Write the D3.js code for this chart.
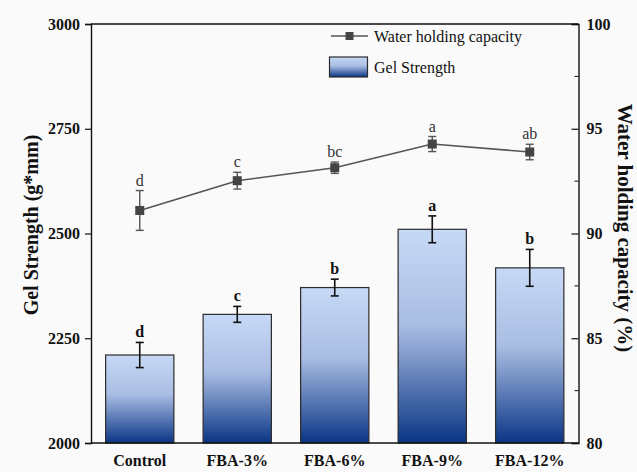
<!DOCTYPE html>
<html>
<head>
<meta charset="utf-8">
<script src="https://cdn.jsdelivr.net/npm/d3@7"></script>
<style>
  html, body { margin: 0; padding: 0; background: #fafafa; }
  svg { display: block; font-family: "Liberation Serif", "Times New Roman", serif; }
  svg text { font-family: "Liberation Serif", "Times New Roman", serif; }
</style>
</head>
<body>
<svg id="chart" width="637" height="472"></svg>
<script>
// Treatments
const categories = ["Control", "FBA-3%", "FBA-6%", "FBA-9%", "FBA-12%"];
// Gel strength (g*mm), mean and SD, with significance letters
const gelStrength = [2210, 2307, 2371, 2510, 2418];
const gelError = [30, 19, 20, 32, 44];
const gelLetters = ["d", "c", "b", "a", "b"];
// Water holding capacity (%), mean and SD, with significance letters
const whc = [91.1, 92.52, 93.14, 94.27, 93.89];
const whcError = [0.95, 0.4, 0.27, 0.36, 0.37];
const whcLetters = ["d", "c", "bc", "a", "ab"];
// Axis ticks
const leftTicks = [2000, 2250, 2500, 2750, 3000];
const rightTicks = [80, 85, 90, 95, 100];
const rightMinorTicks = [82.5, 87.5, 92.5, 97.5];

const svg = d3.select("#chart");
const m = { left: 91, right: 637 - 578.5, top: 24, bottom: 472 - 443 };
const W = 637, H = 472;

const x = d3.scaleBand().domain(categories).range([m.left, W - m.right]).paddingInner(0.3).paddingOuter(0.15);
const yL = d3.scaleLinear().domain([2000, 3000]).range([H - m.bottom, m.top]);
const yR = d3.scaleLinear().domain([80, 100]).range([H - m.bottom, m.top]);

// Bar gradient: light blue at top to navy at the base
const defs = svg.append("defs");
const grad = defs.append("linearGradient").attr("id", "barGrad")
  .attr("x1", 0).attr("y1", 0).attr("x2", 0).attr("y2", 1);
grad.append("stop").attr("offset", "0%").attr("stop-color", "#c6d9f6");
grad.append("stop").attr("offset", "45%").attr("stop-color", "#a9bde3");
grad.append("stop").attr("offset", "100%").attr("stop-color", "#0a3585");

const data = categories.map((c, i) => ({
  c, g: gelStrength[i], ge: gelError[i], gl: gelLetters[i],
  w: whc[i], we: whcError[i], wl: whcLetters[i]
}));

// Bars
svg.append("g").selectAll("rect").data(data).join("rect")
  .attr("x", d => x(d.c))
  .attr("y", d => yL(d.g))
  .attr("width", x.bandwidth())
  .attr("height", d => yL(2000) - yL(d.g))
  .attr("fill", "url(#barGrad)")
  .attr("stroke", "#2b2b2b")
  .attr("stroke-width", 1.2);

// Bar error bars
const cx = d => x(d.c) + x.bandwidth() / 2;
const be = svg.append("g").attr("stroke", "#111").attr("stroke-width", 1.6);
data.forEach(d => {
  be.append("line").attr("x1", cx(d)).attr("x2", cx(d)).attr("y1", yL(d.g + d.ge)).attr("y2", yL(d.g - d.ge));
  be.append("line").attr("x1", cx(d) - 4).attr("x2", cx(d) + 4).attr("y1", yL(d.g + d.ge)).attr("y2", yL(d.g + d.ge));
  be.append("line").attr("x1", cx(d) - 4).attr("x2", cx(d) + 4).attr("y1", yL(d.g - d.ge)).attr("y2", yL(d.g - d.ge));
});
svg.append("g").selectAll("text").data(data).join("text")
  .attr("x", cx).attr("y", d => yL(d.g + d.ge) - 5)
  .attr("text-anchor", "middle").attr("font-size", 16).attr("font-weight", "bold").attr("fill", "#111")
  .text(d => d.gl);

// Water holding capacity line
const lineColor = "#555";
svg.append("path").datum(data)
  .attr("fill", "none").attr("stroke", lineColor).attr("stroke-width", 1.6)
  .attr("d", d3.line().x(cx).y(d => yR(d.w)));
const le = svg.append("g").attr("stroke", lineColor).attr("stroke-width", 1.4);
data.forEach(d => {
  le.append("line").attr("x1", cx(d)).attr("x2", cx(d)).attr("y1", yR(d.w + d.we)).attr("y2", yR(d.w - d.we));
  le.append("line").attr("x1", cx(d) - 4).attr("x2", cx(d) + 4).attr("y1", yR(d.w + d.we)).attr("y2", yR(d.w + d.we));
  le.append("line").attr("x1", cx(d) - 4).attr("x2", cx(d) + 4).attr("y1", yR(d.w - d.we)).attr("y2", yR(d.w - d.we));
});
svg.append("g").selectAll("rect").data(data).join("rect")
  .attr("x", d => cx(d) - 4.5).attr("y", d => yR(d.w) - 4.5)
  .attr("width", 9).attr("height", 9).attr("fill", "#444");
svg.append("g").selectAll("text").data(data).join("text")
  .attr("x", cx).attr("y", d => yR(d.w + d.we) - 5)
  .attr("text-anchor", "middle").attr("font-size", 16).attr("fill", "#333")
  .text(d => d.wl);

// Axes
const axisL = svg.append("g").attr("transform", `translate(${m.left},0)`)
  .call(d3.axisLeft(yL).tickValues(leftTicks).tickFormat(d3.format("d")).tickSize(6).tickPadding(5));
const axisR = svg.append("g").attr("transform", `translate(${W - m.right},0)`)
  .call(d3.axisRight(yR).tickValues(rightTicks).tickFormat(d3.format("d")).tickSize(-7).tickPadding(9));
axisR.selectAll(".tick text").attr("x", 8);
axisR.append("g").selectAll("line").data(rightMinorTicks).join("line")
  .attr("x1", -4).attr("x2", 0).attr("y1", d => yR(d)).attr("y2", d => yR(d))
  .attr("stroke", "#111");
const axisB = svg.append("g").attr("transform", `translate(0,${H - m.bottom})`)
  .call(d3.axisBottom(x).tickSize(0).tickPadding(12));
[axisL, axisR, axisB].forEach(a => {
  a.attr("font-family", null);
  a.selectAll("path.domain").attr("stroke", "#111").attr("stroke-width", 1.4);
  a.selectAll(".tick line").attr("stroke", "#111").attr("stroke-width", 1.2);
  a.selectAll("text").style("font-family", "'Liberation Serif', serif").attr("font-size", 16)
    .attr("font-weight", "bold").attr("fill", "#111");
});
axisB.select("path.domain").attr("d", `M${m.left},0H${W - m.right}`);
// Top frame line
svg.append("line").attr("x1", m.left).attr("x2", W - m.right).attr("y1", m.top).attr("y2", m.top)
  .attr("stroke", "#111").attr("stroke-width", 1.4);

// Axis titles
svg.append("text").attr("transform", `translate(38,225) rotate(-90)`)
  .attr("text-anchor", "middle").attr("font-size", 20).attr("font-weight", "bold").attr("fill", "#111")
  .text("Gel Strength (g*mm)");
svg.append("text").attr("transform", `translate(618,228) rotate(90)`)
  .attr("text-anchor", "middle").attr("font-size", 21).attr("font-weight", "bold").attr("fill", "#111")
  .text("Water holding capacity (%)");

// Legend
const lg = svg.append("g");
lg.append("line").attr("x1", 331).attr("x2", 368).attr("y1", 36).attr("y2", 36)
  .attr("stroke", lineColor).attr("stroke-width", 1.6);
lg.append("rect").attr("x", 345.5).attr("y", 32).attr("width", 8).attr("height", 8).attr("fill", "#444");
lg.append("text").attr("x", 374).attr("y", 42).attr("font-size", 16).attr("fill", "#111").text("Water holding capacity");
lg.append("rect").attr("x", 329.5).attr("y", 57).attr("width", 38).attr("height", 20)
  .attr("fill", "url(#barGrad)").attr("stroke", "#2b2b2b").attr("stroke-width", 1.2);
lg.append("text").attr("x", 374).attr("y", 73).attr("font-size", 16).attr("fill", "#111").text("Gel Strength");
</script>
</body>
</html>
